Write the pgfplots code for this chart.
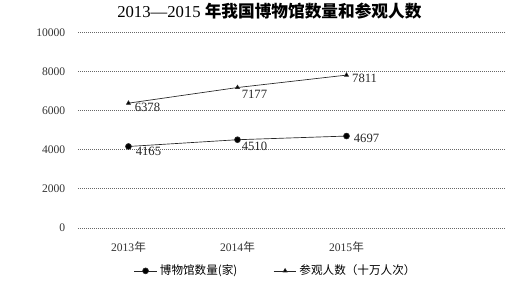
\documentclass[border=0pt]{standalone}
\usepackage{fontspec}
\setmainfont{Liberation Serif}
\newfontfamily\cjk{Noto Sans CJK SC}
\usepackage{pgfplots}
\usepackage{pgfplotstable}
\pgfplotsset{compat=1.18}

\pgfplotstableread{
x y lx ly
0 4165 5.25 -3.5
1 4510 3 -4.75
2 4697 5.25 -1.5
}\museums
\pgfplotstableread{
x y lx ly
0 6378 4.5 -3
1 7177 3 -5.25
2 7811 4 -2.5
}\visitors

\begin{document}
\begin{tikzpicture}
\useasboundingbox (0,0) rectangle (379.5pt,213pt);
\node[font=\fontsize{12.5}{14}\selectfont, inner sep=0pt] at (202pt,204.75pt) {2013—2015 {\cjk\bfseries 年我国博物馆数量和参观人数}};
\begin{axis}[
  at={(58.5pt,42pt)}, anchor=south west,
  scale only axis, width=320.25pt, height=146.8pt,
  xmin=-0.463, xmax=3.454, ymin=0, ymax=10000,
  xtick={0,1,2}, xticklabels={2013{\cjk 年},2014{\cjk 年},2015{\cjk 年}},
  ytick={0,2000,4000,6000,8000,10000},
  axis line style={draw=none}, major tick length=0pt,
  ymajorgrids, grid style={black!60, line width=0.55pt, dash pattern=on 1pt off 0.5pt},
  tick label style={font=\fontsize{8.7}{10}\selectfont, text=black!80},
  xticklabel style={yshift=-7pt},
  yticklabel style={xshift=-6pt},
  scaled y ticks=false,
  /pgf/number format/assume math mode=true,
  /pgf/number format/1000 sep={},
  legend style={at={(0.4637,-0.219)}, anchor=center, draw=none, fill=none,
    legend columns=2, font=\fontsize{8.7}{10}\selectfont\cjk,
    /tikz/every even column/.append style={column sep=25pt}},
  legend cell align=left,
  clip=false,
]
\addplot[black!85, line width=0.5pt, mark=*, mark size=2.2pt, mark options={fill=black, solid},
  nodes near coords, point meta=explicit,
  visualization depends on={\thisrow{lx} \as \lx},
  visualization depends on={\thisrow{ly} \as \ly},
  every node near coord/.append style={anchor=west, inner sep=0pt, xshift=\lx pt, yshift=\ly pt,
    font=\fontsize{9.5}{11}\selectfont, text=black!85}]
  table[x=x, y=y, meta=y] {\museums};
\addplot[black!85, line width=0.5pt, mark=triangle*, mark size=1.7pt, mark options={fill=black, solid},
  nodes near coords, point meta=explicit,
  visualization depends on={\thisrow{lx} \as \lx},
  visualization depends on={\thisrow{ly} \as \ly},
  every node near coord/.append style={anchor=west, inner sep=0pt, xshift=\lx pt, yshift=\ly pt,
    font=\fontsize{9.5}{11}\selectfont, text=black!85}]
  table[x=x, y=y, meta=y] {\visitors};
\legend{博物馆数量(家), 参观人数（十万人次）}
\end{axis}
\end{tikzpicture}
\end{document}
